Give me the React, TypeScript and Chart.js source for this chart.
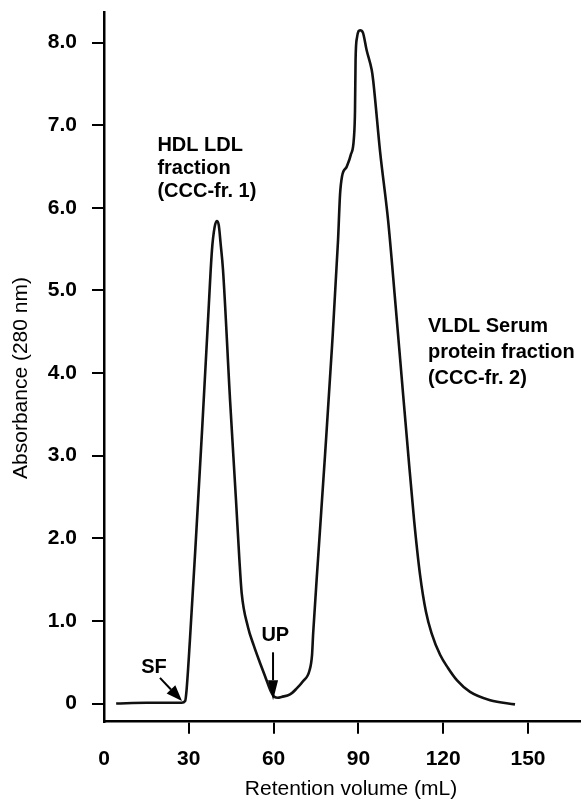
import React, { useEffect, useRef } from 'react';
import { Chart, registerables } from 'chart.js';

Chart.register(...registerables);

// Retention volume (mL) and absorbance (280 nm)
const retentionVolume = [
  4.3, 15, 27.5, 28.7, 29.2, 30.4, 32.5, 34.7, 36.8, 38.2, 39.1, 39.9, 40.6, 41.3, 42.1,
  44.6, 46.7, 47.9, 48.7, 50.9, 53.0, 55.1, 57.2, 59.0, 60.3, 61.5, 62.8, 65.8, 68.1,
  70.4, 72.7, 73.6, 74.0, 75.7, 78.2, 80.7, 82.8, 83.5, 84.2, 85.9, 87.3, 88.4, 88.8,
  89.0, 89.5, 90.6, 91.6, 92.9, 94.7, 95.2, 97.7, 100.5, 103.0, 105.4, 107.5, 109.7,
  111.8, 113.9, 115.9, 118.9, 121.7, 124.9, 129.5, 136.6, 145.4,
];
const absorbance = [
  0.0, 0.01, 0.01, 0.03, 0.16, 0.77, 1.98, 3.31, 4.64, 5.49, 5.76, 5.84, 5.79, 5.55, 5.25,
  3.67, 2.46, 1.74, 1.34, 0.93, 0.70, 0.50, 0.31, 0.15, 0.08, 0.07, 0.08, 0.11, 0.18,
  0.27, 0.40, 0.59, 0.85, 1.74, 3.01, 4.34, 5.61, 6.16, 6.38, 6.50, 6.64, 6.84, 7.18,
  7.79, 8.06, 8.15, 8.12, 7.91, 7.67, 7.55, 6.67, 5.85, 4.88, 3.91, 3.07, 2.22,
  1.56, 1.11, 0.85, 0.59, 0.43, 0.28, 0.14, 0.04, -0.01,
];

const xTicks = [0, 30, 60, 90, 120, 150];
const yTicks = [0, 1, 2, 3, 4, 5, 6, 7, 8];

const xTitle = 'Retention volume (mL)';
const yTitle = 'Absorbance (280 nm)';

// Annotation texts and their anchor points (data units)
const fraction1Lines = ['HDL LDL', 'fraction', '(CCC-fr. 1)'];
const fraction1X = 18.9;
const fraction1Y = [6.76, 6.48, 6.20];
const fraction2Lines = ['VLDL Serum', 'protein fraction', '(CCC-fr. 2)'];
const fraction2X = 114.6;
const fraction2Y = [4.56, 4.25, 3.94];

const sfLabel = 'SF';
const sfLabelPos = [17.7, 0.44];
const sfArrowFrom = [19.8, 0.31];
const sfArrowTo = [27.6, 0.03];

const upLabel = 'UP';
const upLabelPos = [60.6, 0.82];
const upArrowFrom = [59.8, 0.62];
const upArrowTo = [59.8, 0.04];

const FONT = '"Liberation Sans", Arial, Helvetica, sans-serif';

function drawArrow(ctx, x0, y0, x1, y1, headLen, headHalf) {
  const ang = Math.atan2(y1 - y0, x1 - x0);
  const bx = x1 - headLen * Math.cos(ang);
  const by = y1 - headLen * Math.sin(ang);
  ctx.beginPath();
  ctx.moveTo(x0, y0);
  ctx.lineTo(bx, by);
  ctx.stroke();
  ctx.beginPath();
  ctx.moveTo(x1, y1);
  ctx.lineTo(bx + headHalf * Math.sin(ang), by - headHalf * Math.cos(ang));
  ctx.lineTo(bx - headHalf * Math.sin(ang), by + headHalf * Math.cos(ang));
  ctx.closePath();
  ctx.fill();
}

const annotationPlugin = {
  id: 'annotations',
  afterDraw(chart) {
    const { ctx, scales } = chart;
    const x = scales.x;
    const y = scales.y;
    const px = (v) => x.getPixelForValue(v);
    const py = (v) => y.getPixelForValue(v);
    ctx.save();
    ctx.fillStyle = '#000';
    ctx.strokeStyle = '#000';
    ctx.font = `bold 20px ${FONT}`;
    ctx.textBaseline = 'middle';
    ctx.textAlign = 'left';
    fraction1Lines.forEach((t, i) => ctx.fillText(t, px(fraction1X), py(fraction1Y[i])));
    fraction2Lines.forEach((t, i) => ctx.fillText(t, px(fraction2X), py(fraction2Y[i])));

    ctx.textAlign = 'center';
    ctx.fillText(sfLabel, px(sfLabelPos[0]), py(sfLabelPos[1]));
    ctx.fillText(upLabel, px(upLabelPos[0]), py(upLabelPos[1]));

    ctx.lineWidth = 2;
    drawArrow(ctx, px(sfArrowFrom[0]), py(sfArrowFrom[1]), px(sfArrowTo[0]), py(sfArrowTo[1]), 16, 6);
    drawArrow(ctx, px(upArrowFrom[0]), py(upArrowFrom[1]), px(upArrowTo[0]), py(upArrowTo[1]), 20, 5);

    // axis titles
    ctx.font = `21px ${FONT}`;
    ctx.textAlign = 'center';
    ctx.fillText(xTitle, 351, 789);
    ctx.translate(21, 378);
    ctx.rotate(-Math.PI / 2);
    ctx.fillText(yTitle, 0, 0);
    ctx.restore();
  },
};

export default function App() {
  const canvasRef = useRef(null);

  useEffect(() => {
    const canvas = canvasRef.current;
    if (!canvas) return;
    const points = retentionVolume.map((v, i) => ({ x: v, y: absorbance[i] }));
    const tickFont = { family: FONT, size: 21, weight: 'bold' };
    const chart = new Chart(canvas, {
      type: 'line',
      data: {
        datasets: [
          {
            data: points,
            borderColor: '#111',
            borderWidth: 2.6,
            pointRadius: 0,
            fill: false,
            cubicInterpolationMode: 'monotone',
          },
        ],
      },
      options: {
        responsive: false,
        animation: false,
        layout: { padding: { top: 12, left: 0, right: 0, bottom: 0 } },
        plugins: {
          legend: { display: false },
          tooltip: { enabled: false },
          title: { display: false },
        },
        scales: {
          x: {
            type: 'linear',
            position: 'bottom',
            min: 0,
            max: 168.75,
            afterBuildTicks: (scale) => {
              scale.ticks = xTicks.map((v) => ({ value: v }));
            },
            afterFit: (scale) => {
              scale.height = 79.3;
              scale.paddingRight = 0;
            },
            ticks: {
              color: '#000',
              font: tickFont,
              padding: 13,
              maxRotation: 0,
              autoSkip: false,
              callback: (v) => String(v),
            },
            grid: {
              drawOnChartArea: false,
              drawTicks: true,
              tickLength: 12,
              lineWidth: 2,
              color: (ctx) => (ctx.tick && ctx.tick.value === 0 ? 'rgba(0,0,0,0)' : '#000'),
            },
            border: { display: true, color: '#000', width: 2.5 },
            title: { display: false },
          },
          y: {
            type: 'linear',
            position: 'left',
            min: -0.22,
            max: 8.37,
            afterBuildTicks: (scale) => {
              scale.ticks = yTicks.map((v) => ({ value: v }));
            },
            afterFit: (scale) => {
              scale.width = 104;
              scale.paddingTop = 0;
              scale.paddingBottom = 0;
            },
            ticks: {
              color: '#000',
              font: tickFont,
              padding: 15,
              autoSkip: false,
              callback: (v) => (Number(v) === 0 ? '0' : Number(v).toFixed(1)),
            },
            grid: {
              drawOnChartArea: false,
              drawTicks: true,
              tickLength: 12,
              lineWidth: 2,
              color: '#000',
            },
            border: { display: true, color: '#000', width: 2.5 },
            title: { display: false },
          },
        },
      },
      plugins: [annotationPlugin],
    });
    return () => chart.destroy();
  }, []);

  return (
    <div style={{ position: 'absolute', left: 0, top: 0, width: 581, height: 801, background: '#fff' }}>
      <canvas ref={canvasRef} width={581} height={801} style={{ display: 'block' }} />
    </div>
  );
}
